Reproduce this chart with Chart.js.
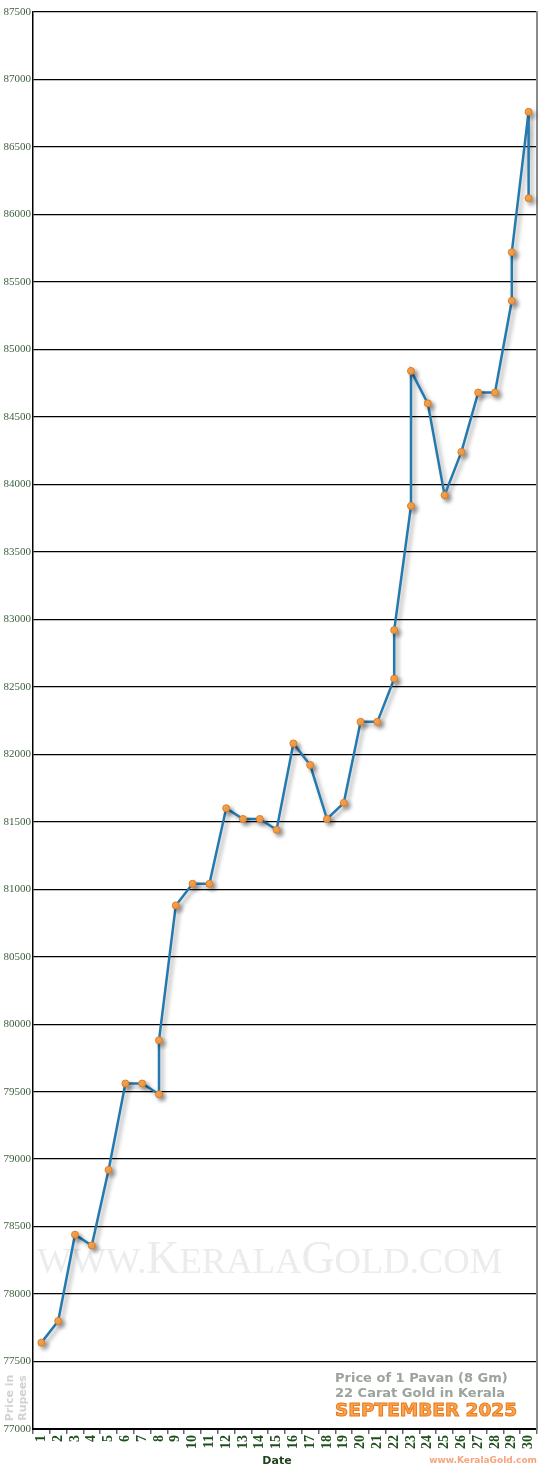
<!DOCTYPE html>
<html>
<head>
<meta charset="utf-8">
<script src="https://cdn.jsdelivr.net/npm/chart.js"></script>
<style>
  html, body { margin: 0; padding: 0; background: #fff; }
  #wrap { width: 550px; height: 1470px; position: relative; }
</style>
</head>
<body>
<div id="wrap"><canvas id="goldChart"></canvas></div>
<script>
// Kerala 22ct gold, price of 1 pavan, September 2025 (some days changed twice)
const dayLabels = ['1','2','3','4','5','6','7','8','9','10','11','12','13','14','15',
                   '16','17','18','19','20','21','22','23','24','25','26','27','28','29','30'];
const priceDates = ['1','2','3','4','5','6','7','8','8','9','10','11','12','13','14','15',
                    '16','17','18','19','20','21','22','22','23','23','24','25','26','27','28',
                    '29','29','30','30'];
const priceValues = [77640,77800,78440,78360,78920,79560,79560,79480,79880,80880,81040,81040,
                     81600,81520,81520,81440,82080,81920,81520,81640,82240,82240,82560,82920,
                     83840,84840,84600,83920,84240,84680,84680,85360,85720,86760,86120];
const yMin = 77000;
const yMax = 87500;
const yStep = 500;

const points = priceDates.map((d, i) => ({ x: d, y: priceValues[i] }));

// watermark behind the line
const watermark = {
  id: 'watermark',
  beforeDatasetsDraw(chart) {
    const ctx = chart.ctx;
    const parts = [['WWW.', 0.8], ['K', 1], ['ERALA', 0.8], ['G', 1], ['OLD.COM', 0.8]];
    const big = 42;
    ctx.save();
    let total = 0;
    parts.forEach(p => {
      ctx.font = (big * p[1]) + 'px "Liberation Serif"';
      total += ctx.measureText(p[0]).width;
    });
    const k = 465 / total;
    let x = 37;
    ctx.fillStyle = '#ececec';
    ctx.textBaseline = 'alphabetic';
    parts.forEach(p => {
      ctx.font = (big * p[1] * k) + 'px "Liberation Serif"';
      ctx.fillText(p[0], x, 1273);
      x += ctx.measureText(p[0]).width;
    });
    ctx.restore();
  }
};

// soft drop shadow under line and markers
const shadow = {
  id: 'shadow',
  beforeDatasetDraw(chart) {
    const ctx = chart.ctx;
    ctx.save();
    ctx.shadowColor = 'rgba(0,0,0,0.35)';
    ctx.shadowBlur = 4;
    ctx.shadowOffsetX = 3;
    ctx.shadowOffsetY = 3;
  },
  afterDatasetDraw(chart) {
    chart.ctx.restore();
  }
};

// captions
const captions = {
  id: 'captions',
  afterDraw(chart) {
    const ctx = chart.ctx;
    ctx.save();
    ctx.textBaseline = 'middle';

    ctx.font = 'bold 13px "DejaVu Sans"';
    ctx.fillStyle = '#9ba39b';
    ctx.textAlign = 'left';
    ctx.fillText('Price of 1 Pavan (8 Gm)', 335, 1379);
    ctx.fillText('22 Carat Gold in Kerala', 335, 1394);

    ctx.font = 'bold 18.5px "DejaVu Sans"';
    ctx.lineWidth = 1;
    ctx.strokeStyle = '#ea7a1c';
    ctx.fillStyle = '#f9a450';
    ctx.fillText('SEPTEMBER 2025', 335, 1411);
    ctx.strokeText('SEPTEMBER 2025', 335, 1411);

    ctx.font = 'bold 9px "DejaVu Sans"';
    ctx.fillStyle = '#f5a47c';
    ctx.textAlign = 'right';
    ctx.fillText('www.KeralaGold.com', 537, 1461);

    ctx.font = 'bold 11px "DejaVu Sans"';
    ctx.fillStyle = '#1f3f1f';
    ctx.textAlign = 'center';
    ctx.fillText('Date', 277, 1461);

    // y axis caption, rotated
    ctx.translate(16, 1398);
    ctx.rotate(-Math.PI / 2);
    ctx.font = 'bold 11px "DejaVu Sans"';
    ctx.fillStyle = '#d2d2d2';
    ctx.fillText('Price in', 0, -6);
    ctx.fillText('Rupees', 0, 7);
    ctx.restore();
  }
};

new Chart(document.getElementById('goldChart'), {
  type: 'line',
  data: {
    labels: dayLabels,
    datasets: [{
      data: points,
      borderColor: '#2479ae',
      borderWidth: 2.5,
      tension: 0,
      pointRadius: 3.5,
      pointBackgroundColor: '#f8a54e',
      pointBorderColor: '#e07a22',
      pointBorderWidth: 1
    }]
  },
  options: {
    responsive: true,
    maintainAspectRatio: false,
    animation: false,
    layout: { padding: { top: 12, right: 13, left: 0, bottom: 0 } },
    plugins: {
      legend: { display: false },
      tooltip: { enabled: false }
    },
    scales: {
      x: {
        type: 'category',
        offset: true,
        grid: {
          offset: true,
          drawOnChartArea: false,
          drawTicks: true,
          tickLength: 5,
          color: '#666',
          lineWidth: 1.5
        },
        border: { color: '#000', width: 2 },
        ticks: {
          autoSkip: false,
          maxRotation: 90,
          minRotation: 90,
          padding: 1,
          color: '#21501f',
          font: { family: '"Liberation Serif"', size: 14, weight: 'bold' }
        },
        afterFit: s => { s.height = 41; }
      },
      y: {
        min: yMin,
        max: yMax,
        ticks: {
          stepSize: yStep,
          padding: 2,
          color: '#3b5e3b',
          font: { family: '"Liberation Serif"', size: 11 },
          callback: v => String(v)
        },
        grid: { color: '#000', lineWidth: 1.2, drawTicks: false },
        border: { color: '#000', width: 1.5 },
        afterFit: s => { s.width = 33; }
      },
      y2: {
        position: 'right',
        min: yMin,
        max: yMax,
        ticks: { display: false },
        grid: { drawOnChartArea: false, drawTicks: false },
        border: { color: '#8a8a8a', width: 2 },
        afterFit: s => { s.width = 0; }
      }
    }
  },
  plugins: [watermark, shadow, captions]
});
</script>
</body>
</html>
